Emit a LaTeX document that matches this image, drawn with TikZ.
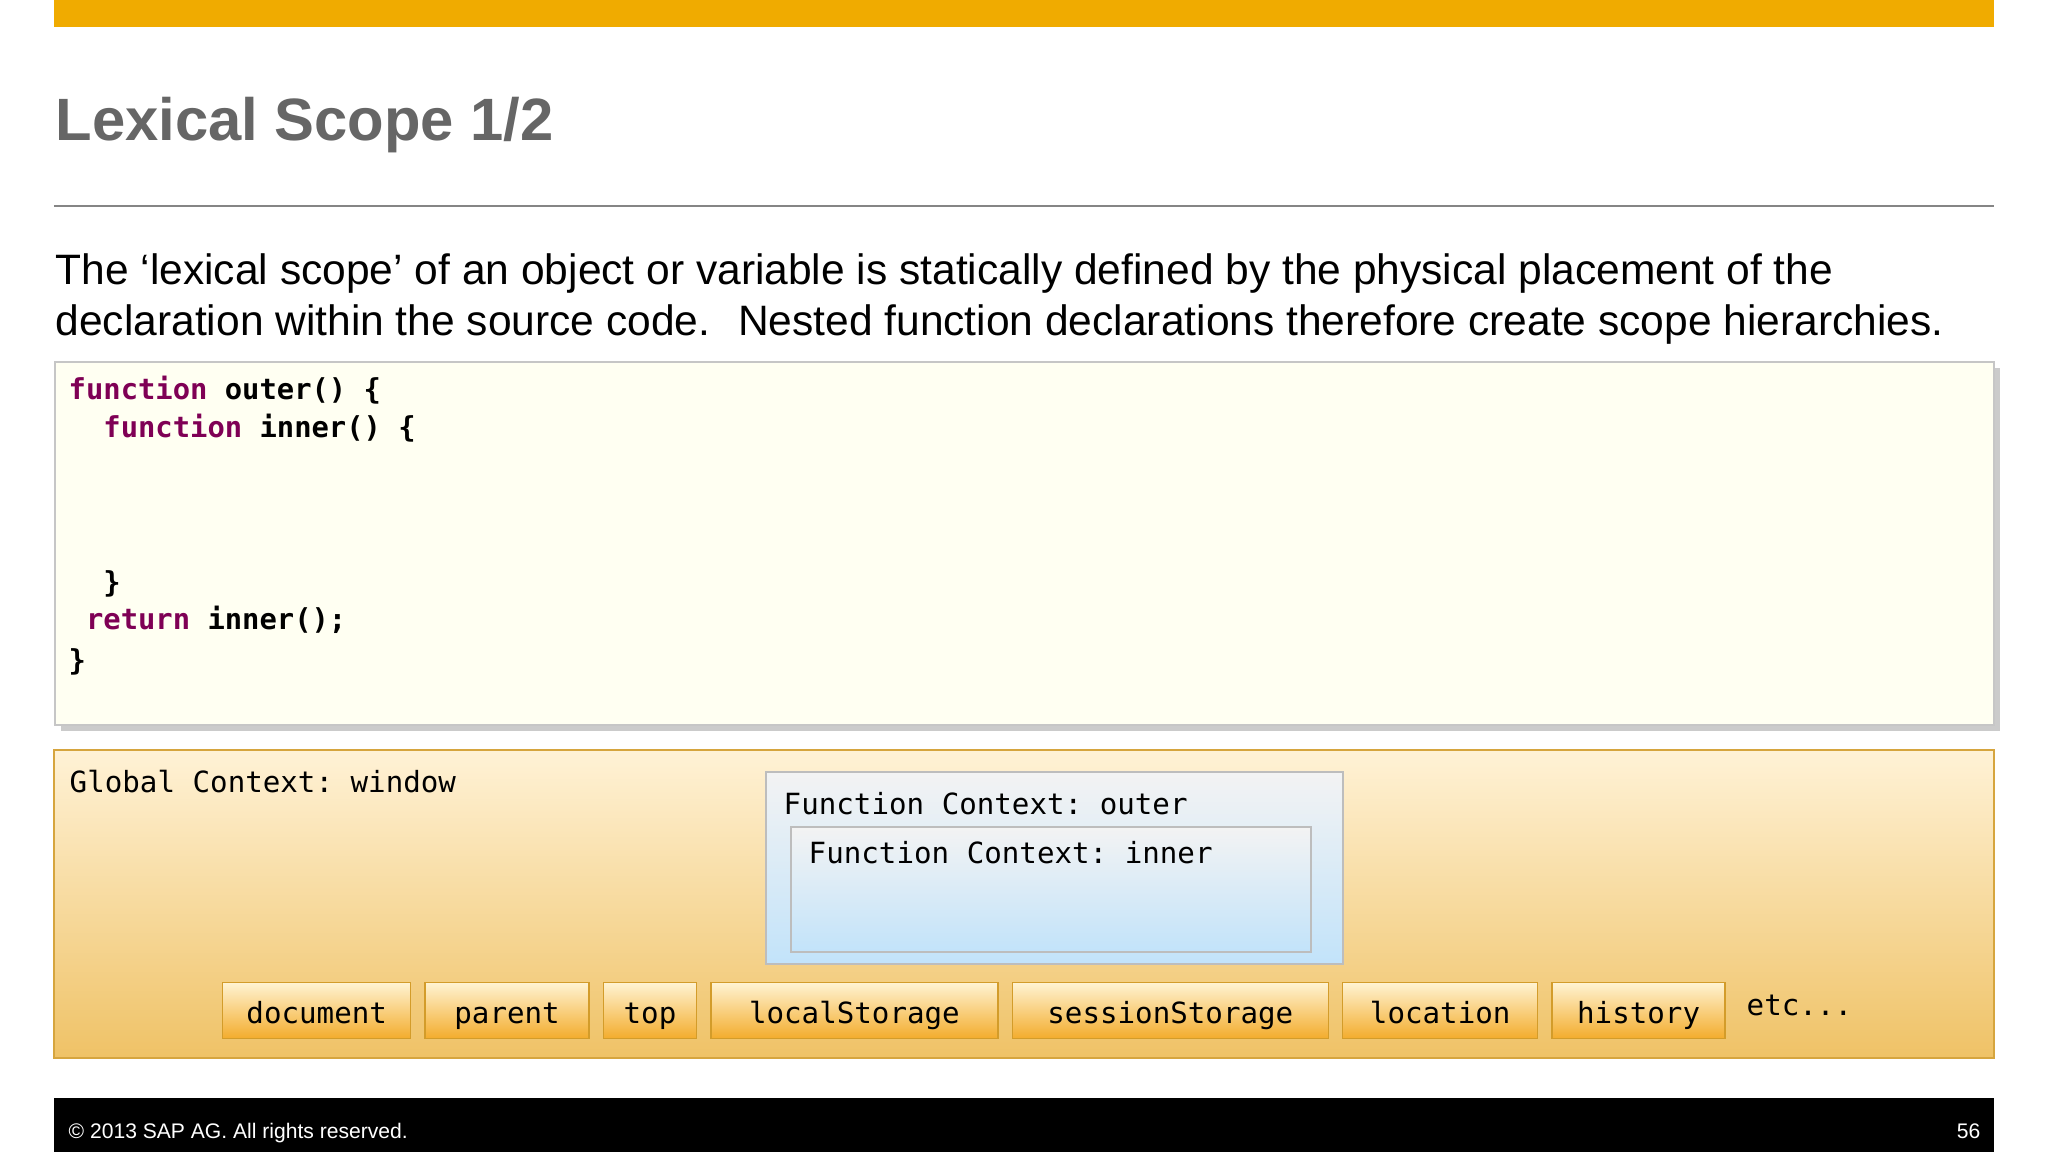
\documentclass[tikz,border=0pt]{standalone}
\usepackage{fontspec}
\setmainfont{Liberation Sans}
\setmonofont{DejaVu Sans Mono}
\usepackage{xcolor}
\usetikzlibrary{positioning,shadows}

\definecolor{sapgold}{HTML}{F0AB00}
\definecolor{titlegray}{HTML}{666666}
\definecolor{rulegray}{HTML}{858585}
\definecolor{codebg}{HTML}{FFFFF2}
\definecolor{codeline}{HTML}{C6C6C6}
\definecolor{keyword}{HTML}{7F0055}
\definecolor{globtop}{HTML}{FFF2D6}
\definecolor{globbot}{HTML}{EFC266}
\definecolor{globline}{HTML}{D6A53E}
\definecolor{ctxtop}{HTML}{F3F3F3}
\definecolor{ctxbot}{HTML}{C2E3FA}
\definecolor{ctxline}{HTML}{BDBDBD}
\definecolor{btntop}{HTML}{FFF3D2}
\definecolor{btnmid}{HTML}{FADA92}
\definecolor{btnbot}{HTML}{F3AC2C}
\definecolor{btnline}{HTML}{D39C2A}

\newcommand{\codefont}{\fontsize{8.2pt}{10pt}\selectfont\ttfamily\bfseries}
\newcommand{\ctxfont}{\fontsize{8.3pt}{10pt}\selectfont\ttfamily}
\newcommand{\kw}[1]{\textcolor{keyword}{#1}}

\tikzset{
  txt/.style={anchor=base west, inner sep=0pt},
  btn/.style={draw=btnline, line width=0.4pt, top color=btntop, middle color=btnmid,
    bottom color=btnbot, minimum height=0.56cm, inner sep=0pt,
    text height=0.30cm, text depth=0.04cm, font=\ctxfont},
}

\begin{document}
\begin{tikzpicture}
		\useasboundingbox (0,0) rectangle (20.48,-11.52);
		\fill[white] (0,0) rectangle (20.48,-11.52);
		% header
		\fill[sapgold] (0.54,0) rectangle (19.94,-0.27);
		\node (title) [txt, text=titlegray, font=\fontsize{17pt}{20pt}\selectfont\bfseries] at (0.55,-1.41) {Lexical Scope 1/2};
		\draw[rulegray, line width=0.5pt] (0.54,-2.06) -- (19.94,-2.06);
		\node (line1) [txt, font=\fontsize{12.1pt}{14pt}\selectfont] at (0.55,-2.85) {The ‘lexical scope’ of an object or variable is statically defined by the physical placement of the};
		\node (line2) [txt, font=\fontsize{12.1pt}{14pt}\selectfont] at (0.55,-3.36) {declaration within the source code.\hspace{0.65em}Nested function declarations therefore create scope hierarchies.};
		
		% code box
		\draw[codeline, fill=codebg, drop shadow={shadow xshift=0.06cm, shadow yshift=-0.06cm, fill=black!40}] (0.55,-3.62) rectangle (19.94,-7.25);
		\node (c1) [txt, font=\codefont] at (0.68,-4.00) {\kw{function} outer() \{};
		\node (c2) [txt, font=\codefont] at (0.68,-4.38) {\phantom{xx}\kw{function} inner() \{};
		\node (c3) [txt, font=\codefont] at (0.68,-5.93) {\phantom{xx}\}};
		\node (c4) [txt, font=\codefont] at (0.68,-6.30) {\phantom{x}\kw{return} inner();};
		\node (c5) [txt, font=\codefont] at (0.68,-6.70) {\}};
		
		% contexts
		\draw[globline, line width=0.5pt, top color=globtop, bottom color=globbot] (0.54,-7.50) rectangle (19.94,-10.58);
		\node (global) [txt, font=\ctxfont] at (0.69,-7.93) {Global Context: window};
		\draw[ctxline, line width=0.5pt, top color=ctxtop, bottom color=ctxbot] (7.66,-7.72) rectangle (13.43,-9.64);
		\node (outer) [txt, font=\ctxfont] at (7.83,-8.15) {Function Context: outer};
		\draw[ctxline, line width=0.5pt, top color=ctxtop, bottom color=ctxbot] (7.91,-8.27) rectangle (13.11,-9.52);
		\node (inner) [txt, font=\ctxfont] at (8.08,-8.63) {Function Context: inner};
		
		% window members
		\node (document) [btn, minimum width=1.88cm, anchor=north west] at (2.22,-9.82) {document};
		\node (parent) [btn, minimum width=1.64cm, right=0.13cm of document] {parent};
		\node (top) [btn, minimum width=0.93cm, right=0.13cm of parent] {top};
		\node (local) [btn, minimum width=2.87cm, right=0.13cm of top] {localStorage};
		\node (session) [btn, minimum width=3.16cm, right=0.13cm of local] {sessionStorage};
		\node (location) [btn, minimum width=1.95cm, right=0.13cm of session] {location};
		\node (history) [btn, minimum width=1.73cm, right=0.13cm of location] {history};
		\node (etc) [txt, font=\ctxfont] at (17.46,-10.15) {etc...};
		
		% footer
		\fill[black] (0.54,-10.98) rectangle (19.94,-11.52);
		\node (copy) [txt, text=white, font=\fontsize{6pt}{7pt}\selectfont] at (0.68,-11.38) {© 2013 SAP AG. All rights reserved.};
		\node (page) [anchor=base east, inner sep=0pt, text=white, font=\fontsize{6pt}{7pt}\selectfont] at (19.81,-11.38) {56};
		
		\end{tikzpicture}
\end{document}
